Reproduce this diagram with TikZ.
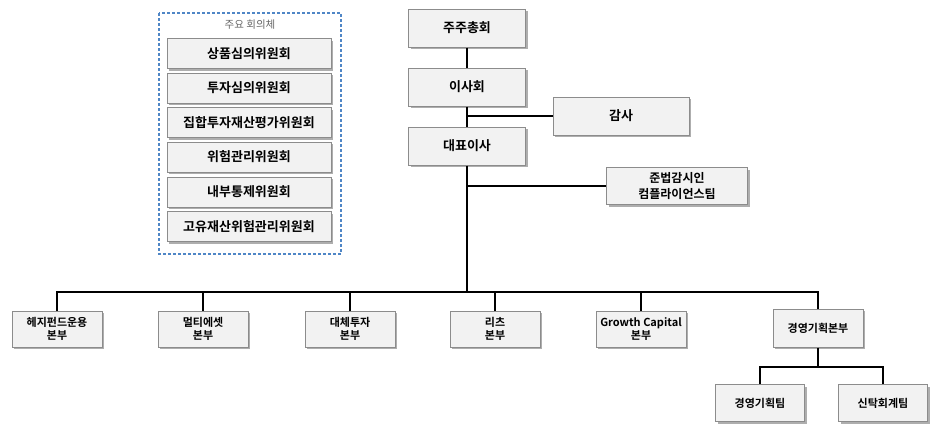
\documentclass[tikz,border=0pt]{standalone}
\usepackage{fontspec}
\setmainfont{Noto Sans CJK KR}[BoldFont={* Bold}]
\usetikzlibrary{shadows}
\definecolor{boxfill}{HTML}{F2F2F2}
\definecolor{boxline}{HTML}{8C8C8C}
\definecolor{dashblue}{HTML}{4F86C6}
\tikzset{
  orgbox/.style={draw=boxline, line width=1pt, fill=boxfill, inner sep=0pt,
    align=center, font=\fontsize{13}{15}\selectfont\bfseries,
    drop shadow={shadow xshift=2pt, shadow yshift=-2pt, fill=black!45, opacity=0.7}},
  unitbox/.style={orgbox, minimum width=90pt, minimum height=36pt,
    font=\fontsize{11}{13}\selectfont\bfseries},
  committee/.style={orgbox, minimum width=164pt, minimum height=30pt},
  link/.style={draw=black, line width=1.1pt}
}
\begin{document}
\begin{tikzpicture}[x=1pt,y=-1pt]
\useasboundingbox (0,0) rectangle (937,447);

% committee group
\draw[dashblue, line width=1.2pt, dash pattern=on 3pt off 2pt] (159,13) rectangle (341,254);
\node[text=black!60, font=\fontsize{10.5}{12}\selectfont] (ctitle) at (250,25) {주요 회의체};
\node[committee] (c1) at (249,53.5) {상품심의위원회};
\node[committee] (c2) at (249,88) {투자심의위원회};
\node[committee] (c3) at (249,122.5) {집합투자재산평가위원회};
\node[committee] (c4) at (249,157) {위험관리위원회};
\node[committee] (c5) at (249,192) {내부통제위원회};
\node[committee] (c6) at (249,226.5) {고유재산위험관리위원회};

% main chain
\node[orgbox, minimum width=117pt, minimum height=38pt] (gm) at (467,28) {주주총회};
\node[orgbox, minimum width=117pt, minimum height=38pt] (board) at (467,87) {이사회};
\node[orgbox, minimum width=136pt, minimum height=38pt] (audit) at (621,116) {감사};
\node[orgbox, minimum width=117pt, minimum height=38pt] (ceo) at (467,146) {대표이사};
\node[orgbox, minimum width=141pt, minimum height=37pt, font=\fontsize{12}{16}\selectfont\bfseries] (comp) at (677,186) {준법감시인\\컴플라이언스팀};

% divisions
\node[unitbox] (hedge) at (57,329) {헤지펀드운용\\본부};
\node[unitbox] (multi) at (203,329) {멀티에셋\\본부};
\node[unitbox] (alt) at (350,329) {대체투자\\본부};
\node[unitbox] (reits) at (495,329) {리츠\\본부};
\node[unitbox] (growth) at (641,329) {Growth Capital\\본부};
\node[unitbox, minimum height=38pt] (mgmt) at (818,328) {경영기획본부};
\node[unitbox, minimum width=89pt, minimum height=37pt] (plan) at (760,403) {경영기획팀};
\node[unitbox, minimum width=89pt, minimum height=37pt] (trust) at (883,403) {신탁회계팀};

\coordinate (bus) at (467,292);
\coordinate (subbus) at (818,367);

% connectors
\draw[link] (gm.south) -- (board.north);
\draw[link] (board.south) -- (ceo.north);
\draw[link] (board.south |- audit.west) -- (audit.west);
\draw[link] (ceo.south) -- (bus);
\draw[link] (ceo.south |- comp.west) -- (comp.west);
\draw[link] (hedge.north) |- (bus) -| (mgmt.north);
\draw[link] (multi.north) -- (multi.north |- bus);
\draw[link] (alt.north) -- (alt.north |- bus);
\draw[link] (reits.north) -- (reits.north |- bus);
\draw[link] (growth.north) -- (growth.north |- bus);
\draw[link] (mgmt.south) -- (subbus);
\draw[link] (plan.north) |- (subbus) -| (trust.north);
\end{tikzpicture}
\end{document}
